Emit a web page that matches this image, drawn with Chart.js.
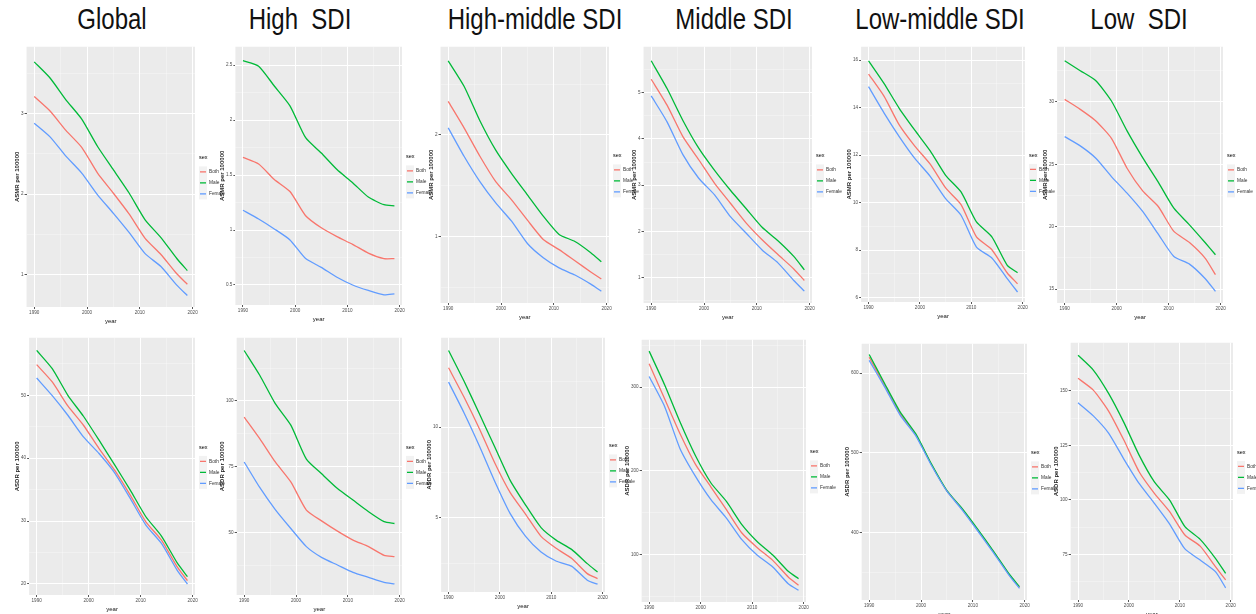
<!DOCTYPE html>
<html>
<head>
<meta charset="utf-8">
<script src="https://cdn.jsdelivr.net/npm/chart.js@4"></script>
<style>
  body { margin: 0; background: #fff; width: 1256px; height: 614px; position: relative; overflow: hidden;
         font-family: "Liberation Sans", Arial, sans-serif; }
  .title { position: absolute; top: 3px; font-size: 24px; white-space: pre; color: #111;
           transform: translateX(-50%) scaleY(1.2); transform-origin: 50% 0; }
  canvas { position: absolute; }
</style>
</head>
<body>
<script>
// ---- data ----
const regions = ['Global', 'High  SDI', 'High-middle SDI', 'Middle SDI', 'Low-middle SDI', 'Low  SDI'];
const sexes = ['Both', 'Male', 'Female'];
const sampleYears = [1990, 1993, 1996, 1999, 2002, 2005, 2008, 2011, 2014, 2017, 2019];
const yearTicks = [1990, 2000, 2010, 2020];

// top row: ASMR per 100000
const mortBoth = [
  [3.21, 3.03, 2.79, 2.58, 2.26, 2.01, 1.75, 1.45, 1.25, 1.01, 0.88],
  [1.66, 1.60, 1.46, 1.35, 1.13, 1.02, 0.94, 0.87, 0.79, 0.74, 0.74],
  [2.33, 2.07, 1.79, 1.54, 1.36, 1.16, 0.97, 0.87, 0.76, 0.65, 0.58],
  [5.29, 4.73, 4.05, 3.55, 3.04, 2.61, 2.18, 1.82, 1.50, 1.19, 0.94],
  [15.41, 14.48, 13.26, 12.38, 11.62, 10.62, 9.92, 8.56, 8.02, 7.04, 6.59],
  [30.21, 29.41, 28.48, 27.09, 24.69, 22.87, 21.62, 19.62, 18.73, 17.48, 16.15]
];
const mortMale = [
  [3.64, 3.44, 3.17, 2.93, 2.59, 2.30, 2.01, 1.68, 1.46, 1.20, 1.05],
  [2.54, 2.49, 2.31, 2.13, 1.84, 1.70, 1.55, 1.43, 1.30, 1.23, 1.22],
  [2.73, 2.48, 2.14, 1.85, 1.62, 1.41, 1.20, 1.02, 0.95, 0.84, 0.75],
  [5.69, 5.09, 4.40, 3.80, 3.32, 2.89, 2.49, 2.09, 1.80, 1.46, 1.17],
  [15.97, 15.02, 13.96, 13.05, 12.18, 11.15, 10.45, 9.19, 8.56, 7.36, 7.05],
  [33.31, 32.51, 31.71, 30.08, 27.68, 25.54, 23.57, 21.48, 20.15, 18.73, 17.75]
];
const mortFemale = [
  [2.88, 2.71, 2.47, 2.26, 1.99, 1.76, 1.52, 1.26, 1.10, 0.87, 0.74],
  [1.18, 1.10, 1.01, 0.91, 0.74, 0.66, 0.57, 0.50, 0.45, 0.41, 0.42],
  [2.07, 1.79, 1.54, 1.33, 1.15, 0.93, 0.79, 0.69, 0.62, 0.53, 0.46],
  [4.93, 4.37, 3.66, 3.15, 2.79, 2.32, 1.96, 1.60, 1.32, 0.94, 0.71],
  [14.88, 13.78, 12.77, 11.86, 11.11, 10.17, 9.47, 8.13, 7.67, 6.80, 6.24],
  [27.22, 26.48, 25.49, 24.02, 22.69, 21.22, 19.40, 17.61, 17.00, 15.85, 14.81]
];
const mortTicks = [[1, 2, 3], [0.5, 1, 1.5, 2, 2.5], [1, 2], [1, 2, 3, 4, 5], [6, 8, 10, 12, 14, 16], [15, 20, 25, 30]];
const mortRange = [[0.598, 3.828], [0.318, 2.667], [0.344, 2.869], [0.453, 5.993], [5.82, 16.56], [13.88, 34.43]];

// bottom row: ASDR per 100000
const dalyBoth = [
  [54.87, 52.12, 48.31, 45.24, 41.53, 38.10, 34.13, 29.89, 26.98, 22.75, 20.53],
  [93.9, 85.7, 76.8, 69.2, 58.5, 54.3, 50.5, 47.1, 44.6, 41.3, 40.8],
  [13.26, 11.65, 9.91, 8.02, 6.39, 5.20, 3.99, 3.32, 2.77, 1.94, 1.67],
  [327.9, 286.1, 244.2, 207.6, 180.5, 153.4, 125.5, 108.0, 92.8, 72.9, 62.9],
  [619.9, 584.5, 549.0, 522.6, 485.4, 452.3, 428.9, 402.5, 375.7, 347.3, 331.4],
  [155.7, 150.3, 140.7, 127.4, 112.9, 103.0, 94.6, 83.9, 78.8, 69.4, 63.3]
];
const dalyMale = [
  [57.14, 54.23, 50.00, 46.67, 42.86, 38.94, 34.92, 30.69, 27.62, 23.39, 21.16],
  [119.2, 109.8, 99.0, 90.8, 77.9, 72.2, 66.7, 62.3, 57.9, 54.1, 53.4],
  [14.21, 12.53, 10.73, 8.90, 7.07, 5.71, 4.47, 3.77, 3.26, 2.49, 2.03],
  [343.0, 302.8, 258.2, 217.9, 185.3, 163.3, 135.5, 115.1, 99.2, 79.7, 70.9],
  [623.4, 586.6, 551.0, 523.8, 486.2, 452.7, 429.7, 403.8, 376.6, 348.1, 332.2],
  [166.3, 159.5, 148.8, 135.5, 120.5, 108.2, 99.9, 87.7, 81.9, 73.2, 66.3]
];
const dalyFemale = [
  [52.75, 49.95, 46.83, 43.39, 40.74, 37.67, 33.60, 29.37, 26.46, 22.22, 20.00],
  [76.8, 67.1, 58.7, 51.5, 44.6, 40.4, 37.6, 34.8, 32.9, 31.0, 30.4],
  [12.47, 10.79, 8.96, 7.01, 5.24, 3.99, 3.13, 2.62, 2.34, 1.58, 1.36],
  [312.7, 276.9, 226.3, 193.2, 165.3, 143.4, 117.5, 98.8, 84.9, 64.9, 57.0],
  [615.9, 582.4, 546.9, 521.3, 484.5, 451.9, 428.0, 401.7, 374.5, 346.4, 330.1],
  [144.5, 138.5, 130.6, 118.7, 107.5, 98.4, 88.9, 77.5, 72.4, 67.1, 59.7]
];
const dalyTicks = [[20, 30, 40, 50], [50, 75, 100], [5, 10], [100, 200, 300], [400, 500, 600], [75, 100, 125, 150]];
const dalyRange = [[18.25, 59.15], [26.2, 124.05], [0.93, 14.91], [43.0, 356.6], [315.5, 636.8], [54.1, 172.0]];

// ---- layout ----
const sexColors = ['#F8766D', '#00BA38', '#619CFF'];
const titleX = [112, 300, 535, 734, 940, 1139];
// plot areas [left, top, right, bottom]
const topBoxes = [
  [26.7, 46.7, 195, 306.7], [235, 46.7, 401.7, 305], [440.7, 46.7, 609.3, 303.3],
  [644, 46.7, 812.7, 303.3], [860.7, 46.7, 1025, 301.7], [1056.7, 46.7, 1222.7, 303.3]
];
const bottomBoxes = [
  [29.3, 337.3, 195, 595], [236.7, 337.3, 401.7, 595], [440.7, 337.3, 605, 591.7],
  [641.7, 339.3, 806, 601.7], [861.7, 343.3, 1026.7, 599.3], [1070.7, 342.7, 1232.7, 600]
];

const FONT = '"Liberation Sans", Arial, sans-serif';
Chart.defaults.font.family = FONT;
const tickSize = 4.6, titleSize = 6;
const padT = 2, padR = 36, xAxisH = 17;

const ggBg = {
  id: 'ggBg',
  beforeDraw(chart) {
    const { ctx, chartArea: a } = chart;
    ctx.save();
    ctx.fillStyle = '#ebebeb';
    ctx.fillRect(a.left, a.top, a.right - a.left, a.bottom - a.top);
    ctx.restore();
  }
};

const ggLegend = {
  id: 'ggLegend',
  afterDraw(chart) {
    const { ctx, chartArea: a } = chart;
    const x0 = a.right + 4, cy = (a.top + a.bottom) / 2;
    ctx.save();
    ctx.textBaseline = 'middle';
    ctx.textAlign = 'left';
    ctx.fillStyle = '#000';
    ctx.font = '5.5px ' + FONT;
    ctx.fillText('sex', x0, cy - 19);
    ctx.fillStyle = '#f2f2f2';
    ctx.fillRect(x0, cy - 10.5, 8, 33);
    chart.data.datasets.forEach((ds, i) => {
      const y = cy - 5 + i * 11;
      ctx.strokeStyle = ds.borderColor;
      ctx.lineWidth = 1.3;
      ctx.beginPath();
      ctx.moveTo(x0 + 1, y);
      ctx.lineTo(x0 + 7, y);
      ctx.stroke();
      ctx.fillStyle = '#333';
      ctx.font = '4.8px ' + FONT;
      ctx.fillText(ds.label, x0 + 10, y);
    });
    ctx.restore();
  }
};

const measure = document.createElement('canvas').getContext('2d');
measure.font = tickSize + 'px ' + FONT;

function panelConfig(series, ticks, range, yTitle, yW) {
  const step = (ticks[1] - ticks[0]) / 2;
  const isMajorY = v => ticks.some(t => Math.abs(t - v) < step / 100);
  const isMajorX = v => yearTicks.includes(v);
  return {
    type: 'line',
    data: {
      datasets: sexes.map((s, k) => ({
        label: s,
        data: sampleYears.map((yr, j) => ({ x: yr, y: series[k][j] })),
        borderColor: sexColors[k],
        borderWidth: 1.3,
        pointRadius: 0,
        tension: 0.2,
        fill: false,
        order: 2 - k
      }))
    },
    options: {
      responsive: false,
      maintainAspectRatio: false,
      animation: false,
      devicePixelRatio: 1,
      layout: { padding: { top: padT, right: padR, left: 0, bottom: 0 } },
      plugins: { legend: { display: false }, tooltip: { enabled: false } },
      scales: {
        x: {
          type: 'linear', min: 1988.55, max: 2020.45,
          afterFit: s => { s.height = xAxisH; },
          border: { display: false },
          grid: {
            color: ctx => isMajorX(ctx.tick.value) ? '#ffffff' : 'rgba(255,255,255,0.6)',
            lineWidth: ctx => isMajorX(ctx.tick.value) ? 1 : 0.5,
            tickLength: 2,
            tickColor: ctx => isMajorX(ctx.tick.value) ? '#555' : 'rgba(0,0,0,0)'
          },
          ticks: {
            stepSize: 5, includeBounds: false, autoSkip: false, maxRotation: 0, padding: 1,
            font: { size: tickSize }, color: '#4d4d4d',
            callback: v => isMajorX(v) ? String(v) : ''
          },
          title: { display: true, text: 'year', font: { size: titleSize, lineHeight: 1 }, color: '#111', padding: 0 }
        },
        y: {
          type: 'linear', min: range[0], max: range[1],
          afterFit: s => { s.width = yW; },
          border: { display: false },
          grid: {
            color: ctx => isMajorY(ctx.tick.value) ? '#ffffff' : 'rgba(255,255,255,0.6)',
            lineWidth: ctx => isMajorY(ctx.tick.value) ? 1 : 0.5,
            tickLength: 2,
            tickColor: ctx => isMajorY(ctx.tick.value) ? '#555' : 'rgba(0,0,0,0)'
          },
          ticks: {
            stepSize: step, includeBounds: false, autoSkip: false, padding: 1,
            font: { size: tickSize }, color: '#4d4d4d',
            callback: v => isMajorY(v) ? String(v) : ''
          },
          title: { display: true, text: yTitle, font: { size: titleSize, weight: 'bold', lineHeight: 1 }, color: '#222', padding: 0 }
        }
      }
    },
    plugins: [ggBg, ggLegend]
  };
}

function makePanel(box, series, ticks, range, yTitle) {
  const labelW = Math.max(...ticks.map(t => measure.measureText(String(t)).width));
  const yW = 2 + 1 + labelW + 1 + titleSize;
  const plotW = box[2] - box[0], plotH = box[3] - box[1];
  const cv = document.createElement('canvas');
  document.body.appendChild(cv);
  let w = Math.round(plotW + yW + padR), h = Math.round(plotH + padT + xAxisH);
  cv.width = w; cv.height = h;
  let chart = new Chart(cv, panelConfig(series, ticks, range, yTitle, yW));
  let a = chart.chartArea;
  const dw = Math.round(plotW - (a.right - a.left)), dh = Math.round(plotH - (a.bottom - a.top));
  if (dw !== 0 || dh !== 0) {
    chart.destroy();
    w += dw; h += dh;
    cv.width = w; cv.height = h;
    chart = new Chart(cv, panelConfig(series, ticks, range, yTitle, yW));
    a = chart.chartArea;
  }
  cv.style.left = (box[0] - a.left) + 'px';
  cv.style.top = (box[1] - a.top) + 'px';
}

regions.forEach((name, i) => {
  const t = document.createElement('div');
  t.className = 'title';
  t.style.left = titleX[i] + 'px';
  t.textContent = name;
  document.body.appendChild(t);

  makePanel(topBoxes[i], [mortBoth[i], mortMale[i], mortFemale[i]], mortTicks[i], mortRange[i], 'ASMR per 100000');
  makePanel(bottomBoxes[i], [dalyBoth[i], dalyMale[i], dalyFemale[i]], dalyTicks[i], dalyRange[i], 'ASDR per 100000');
});
</script>
</body>
</html>
